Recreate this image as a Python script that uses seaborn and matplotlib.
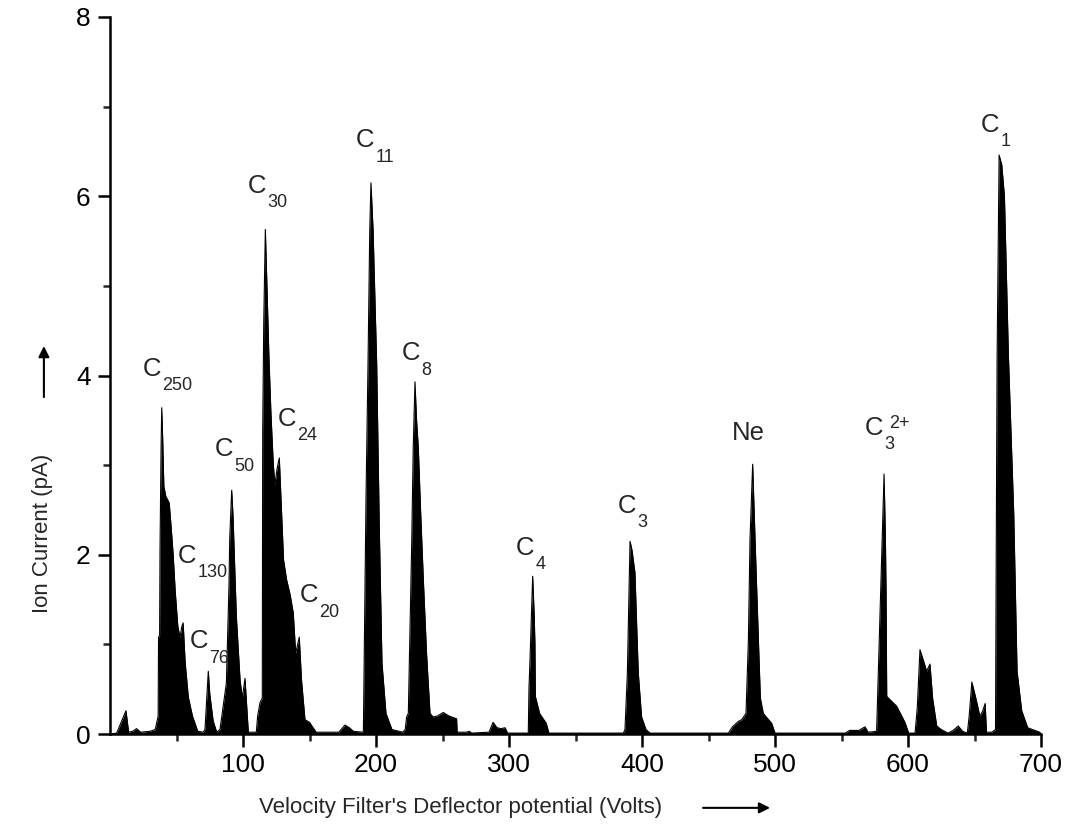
import numpy as np
import pandas as pd
import matplotlib
matplotlib.use("Agg")
import matplotlib.pyplot as plt
import seaborn as sns

# spectrum outline (deflector volts, ion current pA)
volts = [0, 5, 12, 14, 17, 20, 23, 30, 34, 36.2, 36.5, 37.3, 37.6, 38.4, 38.9,
         39.6, 40.5, 42, 44.5, 46, 47.5, 49, 51, 52.6, 54, 55, 56.5, 58.9, 62,
         66, 70, 71.4, 73.9, 75, 77.5, 80.2, 82.7, 85, 87.5, 89.5, 90, 91.5,
         92.5, 95, 97.8, 99.5, 101.5, 104, 110, 111, 112.8, 114.5, 114.8,
         115.6, 116.8, 118, 119.5, 121, 122.8, 124, 125.5, 127.3, 129,
         130.5, 132.8, 135.5, 137.8, 139.6, 142.3, 144, 146.6, 150, 155, 172,
         176.7, 180, 183, 190.5, 191.5, 192.5, 194, 195.3, 196.2, 197.8, 200.5,
         202.5, 204.5, 207.5, 212, 220, 222, 223, 224.3, 226.8, 228, 229.3,
         230.5, 231.8, 233.5, 235.6, 238, 240.6, 243, 246, 250.6, 255, 260.6,
         261, 268, 270, 272, 285, 288, 291, 294, 297, 299, 314.5, 315, 315.8,
         317.8, 319, 319.5, 319.8, 323, 328, 330, 386, 387.2, 389, 390, 391,
         392.5, 394.7, 396, 397.2, 399.7, 403, 406, 465, 468, 472.4, 475,
         478.2, 480, 481.2, 483.2, 485, 487.5, 489, 491.2, 494, 497.5, 500,
         553, 556, 563, 567.7, 570, 576.4, 577.7, 580.2, 582, 583, 583.5, 584,
         591.5, 597.7, 600.5, 605.3, 607, 609, 612, 614, 616.5, 618.5, 621.6,
         625, 630, 634, 637.8, 641, 644.6, 646, 648, 651, 654, 656, 658, 659,
         663, 665.8, 666.2, 667, 668.5, 670.5, 672.5, 675.5, 679.5, 682, 685.5,
         690, 699, 700]
current = [0, 0.01, 0.26, 0.02, 0.03, 0.06, 0.02, 0.03, 0.05, 0.2, 1.08, 1.1,
           2.05, 3.2, 3.64, 3.3, 2.76, 2.65, 2.58, 2.3, 2.0, 1.6, 1.2, 1.08,
           1.2, 1.24, 0.8, 0.41, 0.2, 0.03, 0.02, 0.05, 0.70, 0.45, 0.15, 0.02,
           0.05, 0.3, 0.57, 1.68, 2.17, 2.72, 2.43, 1.31, 0.6, 0.4, 0.62, 0.02,
           0.02, 0.2, 0.35, 0.4, 3.36, 4.6, 5.63, 5.0, 4.2, 3.58, 3.0, 2.78,
           2.95, 3.08, 2.47, 1.94, 1.72, 1.55, 1.35, 0.9, 1.08, 0.6, 0.16, 0.13,
           0.02, 0.02, 0.1, 0.07, 0.03, 0.02, 1.35, 2.65, 4.14, 5.62, 6.15,
           5.62, 4.14, 2.28, 0.79, 0.23, 0.05, 0.02, 0.05, 0.19, 0.23, 2.09,
           3.2, 3.93, 3.5, 3.2, 2.5, 1.72, 0.9, 0.23, 0.19, 0.2, 0.24, 0.2,
           0.17, 0.02, 0.02, 0.03, 0.01, 0.02, 0.13, 0.07, 0.06, 0.07, 0.01,
           0.01, 0.5, 0.83, 1.76, 1.3, 1.0, 0.42, 0.23, 0.12, 0.01, 0.01, 0.05,
           0.68, 1.42, 2.15, 2.05, 1.8, 1.2, 0.68, 0.19, 0.05, 0.01, 0.01, 0.08,
           0.14, 0.16, 0.23, 1.05, 2.17, 3.01, 2.17, 1.05, 0.4, 0.23, 0.18,
           0.12, 0.01, 0.01, 0.04, 0.04, 0.08, 0.02, 0.03, 0.7, 2.02, 2.9, 2.2,
           1.58, 0.42, 0.31, 0.13, 0.01, 0.01, 0.3, 0.94, 0.8, 0.7, 0.78, 0.4,
           0.09, 0.05, 0.01, 0.04, 0.09, 0.03, 0.01, 0.2, 0.58, 0.4, 0.2, 0.25,
           0.34, 0.02, 0.02, 0.05, 1.58, 4.22, 6.46, 6.35, 6.0, 4.22, 2.46, 0.7,
           0.26, 0.07, 0.02, 0.0]

# peak labels: element, subscript, superscript, anchor (volts, pA)
label_base = ["C", "C", "C", "C", "C", "C", "C", "C", "C", "C", "C", "Ne", "C", "C"]
label_sub = ["250", "130", "76", "50", "30", "24", "20", "11", "8", "4", "3", "", "3", "1"]
label_sup = ["", "", "", "", "", "", "", "", "", "", "", "", "2+", ""]
label_x = [24.6, 51.1, 60.2, 78.9, 103.8, 126.3, 142.9, 185.0, 219.5, 305.3,
           382.0, 467.3, 567.7, 654.9]
label_y = [4.00, 1.91, 0.96, 3.10, 6.04, 3.44, 1.47, 6.55, 4.17, 2.00,
           2.47, 3.28, 3.34, 6.72]

x_major = [100, 200, 300, 400, 500, 600, 700]
x_minor = [50, 150, 250, 350, 450, 550, 650]
y_major = [0, 2, 4, 6, 8]
y_minor = [1, 3, 5, 7]

sns.set_style("ticks")
plt.rcParams["font.family"] = ["Liberation Sans", "DejaVu Sans"]

df = pd.DataFrame({"volts": volts, "current": current})

fig = plt.figure(figsize=(10.67, 8.32), dpi=100)
ax = fig.add_axes([110 / 1067, 98 / 832, 931 / 1067, 717 / 832])

ax.fill_between(df["volts"], 0, df["current"], color="black", lw=0)
sns.lineplot(data=df, x="volts", y="current", ax=ax, color="black", lw=0.8,
             estimator=None, sort=False)

ax.set_xlim(0, 700)
ax.set_ylim(0, 8)
ax.set_xticks(x_major)
ax.set_xticks(x_minor, minor=True)
ax.set_yticks(y_major)
ax.set_yticks(y_minor, minor=True)
ax.tick_params(which="major", length=9, width=1.8, labelsize=19, pad=5,
               direction="out", colors="black")
ax.tick_params(which="minor", length=5, width=1.8, direction="out")
sns.despine(ax=ax)
for s in ["left", "bottom"]:
    ax.spines[s].set_linewidth(1.8)
    ax.spines[s].set_color("black")

ax.set_xlabel("Velocity Filter's Deflector potential (Volts)", fontsize=16)
ax.set_ylabel("Ion Current (pA)", fontsize=16, va="center")
ax.xaxis.set_label_coords(0.377, -0.088)
ax.yaxis.set_label_coords(-0.073, 0.28)

# arrows next to axis titles
ax.annotate("", xy=(0.712, -0.103), xytext=(0.634, -0.103), xycoords="axes fraction",
            arrowprops=dict(arrowstyle="-|>", color="black", lw=1.5, mutation_scale=16),
            annotation_clip=False)
ax.annotate("", xy=(-0.071, 0.545), xytext=(-0.071, 0.466), xycoords="axes fraction",
            arrowprops=dict(arrowstyle="-|>", color="black", lw=1.5, mutation_scale=16),
            annotation_clip=False)

for base, sub, sup, lx, ly in zip(label_base, label_sub, label_sup, label_x, label_y):
    ax.text(lx, ly, base, fontsize=18.5, ha="left", va="baseline")
    if sub:
        ax.annotate(sub, xy=(lx, ly), xytext=(14, -10.5), textcoords="offset points",
                    fontsize=13, ha="left", va="baseline")
    if sup:
        ax.annotate(sup, xy=(lx, ly), xytext=(17, 5), textcoords="offset points",
                    fontsize=13, ha="left", va="baseline")

fig.savefig("out.png", dpi=100)
